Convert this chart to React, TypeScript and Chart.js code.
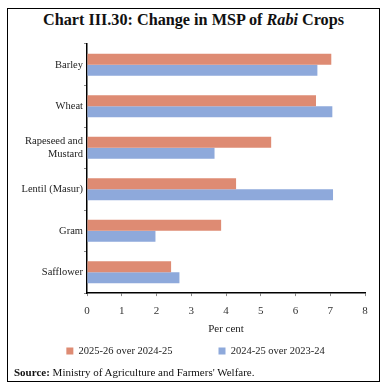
import React, { useEffect, useRef } from "react";
import { Chart, registerables } from "chart.js";

Chart.register(...registerables);

const categories: (string | string[])[] = [
  "Barley",
  "Wheat",
  ["Rapeseed and", "Mustard"],
  "Lentil (Masur)",
  "Gram",
  "Safflower",
];
const series2025 = [7.03, 6.59, 5.3, 4.29, 3.86, 2.42];
const series2024 = [6.63, 7.06, 3.67, 7.08, 1.97, 2.66];
const seriesLabels = ["2025-26 over 2024-25", "2024-25 over 2023-24"];
const xTicks = [0, 1, 2, 3, 4, 5, 6, 7, 8];

const FONT = "'Liberation Serif', 'Times New Roman', serif";
const LEGEND_PAD = 46;
const LEGEND_FONT = 10.5;
const LEGEND_Y = 315; // legend row centre within the canvas
const LEGEND_DX = 9;

const legendShift = {
  id: "legendShift",
  afterLayout(chart: any) {
    const lg = chart.legend;
    if (!lg) return;
    const targetTop = LEGEND_Y - LEGEND_PAD - LEGEND_FONT / 2;
    const dy = targetTop - lg.top;
    lg.top += dy;
    lg.bottom += dy;
    lg.left += LEGEND_DX;
    lg.right += LEGEND_DX;
  },
};

export default function App() {
  const ref = useRef<HTMLCanvasElement | null>(null);

  useEffect(() => {
    if (!ref.current) return;
    const chart = new Chart(ref.current, {
      type: "bar",
      data: {
        labels: categories,
        datasets: [
          {
            label: seriesLabels[0],
            data: series2025,
            backgroundColor: "#DE8B73",
            barPercentage: 1,
            categoryPercentage: 0.53,
          },
          {
            label: seriesLabels[1],
            data: series2024,
            backgroundColor: "#8EA9DB",
            barPercentage: 1,
            categoryPercentage: 0.53,
          },
        ],
      },
      plugins: [legendShift],
      options: {
        indexAxis: "y",
        animation: false,
        responsive: false,
        maintainAspectRatio: false,
        layout: { padding: { top: 8, right: 13, left: 0, bottom: 0 } },
        plugins: {
          legend: {
            position: "bottom",
            labels: {
              boxWidth: 7,
              boxHeight: 7,
              padding: LEGEND_PAD,
              color: "#222",
              font: { family: FONT, size: LEGEND_FONT },
            },
          },
          tooltip: { enabled: false },
        },
        scales: {
          x: {
            min: 0,
            max: 8,
            afterBuildTicks: (scale: any) => {
              scale.ticks = xTicks.map((v) => ({ value: v }));
            },
            ticks: {
              color: "#333",
              font: { family: FONT, size: 11 },
              padding: 8,
            },
            grid: {
              display: true,
              drawOnChartArea: false,
              drawTicks: true,
              tickLength: 3,
              color: "#888",
            },
            border: { color: "#000", width: 1.5 },
            title: {
              display: true,
              text: "Per cent",
              color: "#222",
              font: { family: FONT, size: 11 },
              padding: { top: -3, bottom: 0 },
            },
          },
          y: {
            ticks: {
              color: "#222",
              font: { family: FONT, size: 10.5 },
              padding: 1,
            },
            grid: {
              display: true,
              drawOnChartArea: false,
              drawTicks: true,
              tickLength: 3,
              offset: true,
              color: "#888",
            },
            border: { color: "#000", width: 1.5 },
            afterFit: (scale: any) => {
              scale.width = 79;
            },
          },
        },
      },
    });
    return () => chart.destroy();
  }, []);

  return (
    <div
      style={{
        position: "fixed",
        left: 0,
        top: 0,
        width: 385,
        height: 388,
        overflow: "hidden",
        background: "#fff",
        fontFamily: FONT,
      }}
    >
      <div
        style={{
          position: "absolute",
          left: 7,
          top: 8,
          width: 371,
          height: 372,
          border: "1px solid #000",
        }}
      />
      <div
        style={{
          position: "absolute",
          left: 7,
          width: 373,
          top: 11,
          textAlign: "center",
          fontWeight: "bold",
          fontSize: 16.2,
          color: "#111",
        }}
      >
        Chart III.30: Change in MSP of <i>Rabi</i> Crops
      </div>
      <canvas
        ref={ref}
        width={370}
        height={366}
        style={{ position: "absolute", left: 8, top: 36, width: 370, height: 366 }}
      />
      <div
        style={{
          position: "absolute",
          left: 14,
          top: 366,
          fontSize: 11,
          color: "#111",
        }}
      >
        <b>Source:</b> Ministry of Agriculture and Farmers' Welfare.
      </div>
    </div>
  );
}
